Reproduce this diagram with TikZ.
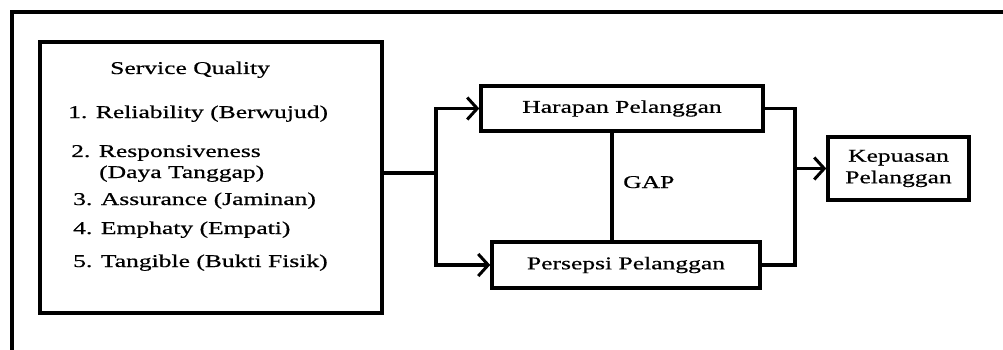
\documentclass[tikz,border=0pt]{standalone}
\usepackage{fontspec}
\setmainfont{Liberation Serif}[FakeStretch=1.42,FakeBold=0.6]
\usetikzlibrary{arrows.meta}
\begin{document}
\begin{tikzpicture}[x=1pt,y=-1pt,
  font=\fontsize{18}{21.5}\selectfont,
  box/.style={draw,line width=3.5pt,inner sep=0pt,rectangle},
  wire/.style={line width=3.5pt},
  arr/.style={wire,-{Straight Barb[length=10pt,width=22pt,line width=3pt]}},
  item/.style={anchor=base west,inner sep=0pt}]
\useasboundingbox (0,0) rectangle (1003,350);

% outer frame (left and top edges)
\coordinate (fbl) at (12,352);
\coordinate (ftl) at (12,12);
\coordinate (ftr) at (1005,12);
\draw[line width=4pt] (fbl) -- (ftl) -- (ftr);

% boxes
\node[box,minimum width=342pt,minimum height=271pt] (sq) at (211,177.5) {};
\node[box,minimum width=282pt,minimum height=45pt] (har) at (622,108.5) {Harapan Pelanggan};
\node[box,minimum width=268pt,minimum height=46pt] (per) at (626,265) {Persepsi Pelanggan};
\node[box,minimum width=141pt,minimum height=63pt,align=center] (kep) at (898.5,168.5) {Kepuasan\\Pelanggan};

% service quality contents
\node[item] (t0) at (110,74) {Service Quality};
\node[item] (t1) at (68,118) {1. Reliability (Berwujud)};
\node[item] (t2) at (71,157) {2. Responsiveness};
\node[item] (t2b) at (99,178) {(Daya Tanggap)};
\node[item] (t3) at (73,205) {3. Assurance (Jaminan)};
\node[item] (t4) at (73,234) {4. Emphaty (Empati)};
\node[item] (t5) at (73,267) {5. Tangible (Bukti Fisik)};

% left split
\coordinate (j) at (436,173);
\draw[wire] (sq.east |- j) -- (j);
\draw[arr] (j) |- (har.west);
\draw[arr] (j) |- (per.west);

% gap line
\coordinate (g) at (612,0);
\draw[wire] (g |- har.south) -- (g |- per.north);
\node[item] (gap) at (623,188) {GAP};

% right join
\coordinate (r) at (795,0);
\draw[wire] (har.east) -| (r |- per.east) -- (per.east);
\draw[arr] (r |- kep.west) -- (kep.west);
\end{tikzpicture}
\end{document}
